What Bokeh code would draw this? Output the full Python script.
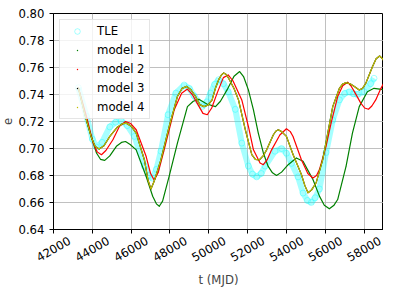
import math
from bokeh.plotting import figure
from bokeh.models import (Range1d, Legend, LegendItem, FixedTicker, NumeralTickFormatter,
                          LinearAxis)
from bokeh.embed import file_html
from bokeh.resources import INLINE

# ---- data ----
tle_t = [43280, 43700, 44000, 44215, 44500, 44900, 45200, 45490, 45800, 46170, 46680,
         46900, 47100, 47300, 47535, 47900, 48300, 48730, 49000, 49240, 49660, 49900,
         50090, 50300, 50510, 50750, 51000, 51365, 51700, 52040, 52250, 52470, 52700,
         52900, 53410, 53750, 54000, 54260, 54600, 54855, 55080, 55280, 55480, 55700,
         56040, 56385, 56730, 57000, 57240, 57450, 57660, 58000, 58340, 58510]
tle_e = [0.745, 0.724, 0.707, 0.701, 0.7045, 0.716, 0.7195, 0.7205, 0.717, 0.709, 0.687,
         0.680, 0.678, 0.6845, 0.698, 0.725, 0.741, 0.747, 0.7445, 0.739, 0.731, 0.7345,
         0.741, 0.7475, 0.751, 0.748, 0.742, 0.729, 0.704, 0.687, 0.681, 0.679, 0.6815,
         0.687, 0.698, 0.700, 0.6965, 0.689, 0.679, 0.667, 0.6615, 0.660, 0.6635, 0.670,
         0.697, 0.721, 0.736, 0.7408, 0.742, 0.7405, 0.740, 0.742, 0.748, 0.752]

m1_t = [43280, 43790, 44215, 44420, 44640, 44900, 45240, 45500, 45710, 45950, 46260,
        46770, 47110, 47300, 47450, 47620, 47960, 48384, 48900, 49200, 49490, 49900,
        50345, 50600, 50940, 51300, 51590, 51800, 52040, 52300, 52550, 52810, 53060,
        53280, 53490, 53750, 54090, 54510, 54855, 55100, 55365, 55700, 55950, 56210,
        56450, 56640, 57070, 57400, 57750, 58170, 58510, 58800, 59080]
m1_e = [0.745, 0.7163, 0.6967, 0.692, 0.6912, 0.6945, 0.7016, 0.7045, 0.7052, 0.703, 0.699,
        0.6794, 0.6646, 0.659, 0.6572, 0.661, 0.6795, 0.704, 0.731, 0.735, 0.7365, 0.733,
        0.731, 0.735, 0.7434, 0.7535, 0.757, 0.753, 0.7434, 0.7286, 0.7114, 0.6967, 0.6867,
        0.682, 0.680, 0.6825, 0.688, 0.693, 0.6905, 0.684, 0.677, 0.6647, 0.658, 0.6553,
        0.658, 0.6622, 0.6868, 0.7114, 0.731, 0.7421, 0.7446, 0.744, 0.7434]

m2_t = [43280, 43700, 44040, 44250, 44470, 44700, 45060, 45400, 45710, 45980, 46260,
        46770, 47000, 47190, 47400, 47700, 48215, 48600, 48900, 49150, 49400, 49700,
        49920, 50150, 50430, 50750, 51000, 51250, 51700, 52040, 52300, 52640, 52810,
        53000, 53235, 53660, 54000, 54200, 54340, 54770, 55100, 55365, 55550, 55700,
        56040, 56300, 56640, 56900, 57150, 57320, 57500, 57830, 58030, 58225, 58400,
        58600, 58850, 59080]
m2_e = [0.745, 0.7237, 0.704, 0.6975, 0.6954, 0.6985, 0.7065, 0.7165, 0.720, 0.7185, 0.7139,
        0.6942, 0.6815, 0.6765, 0.6825, 0.699, 0.7285, 0.741, 0.744, 0.740, 0.7336, 0.726,
        0.725, 0.730, 0.741, 0.7525, 0.7545, 0.750, 0.736, 0.7163, 0.699, 0.6893, 0.688,
        0.6915, 0.699, 0.710, 0.7146, 0.7125, 0.7089, 0.6917, 0.6815, 0.6782, 0.680, 0.6844,
        0.7016, 0.7188, 0.7385, 0.7465, 0.7491, 0.7465, 0.7421, 0.7336, 0.730, 0.7291, 0.7315,
        0.736, 0.744, 0.7503]

m3_t = [43280, 43620, 43960, 44150, 44350, 44600, 44900, 45300, 45550, 45750, 46000,
        46260, 46680, 46870, 47020, 47180, 47535, 47960, 48384, 48620, 48860, 49080,
        49320, 49540, 49750, 49950, 50170, 50350, 50510, 50650, 50770, 50900, 51020,
        51300, 51530, 51880, 52215, 52400, 52600, 52800, 52980, 53320, 53450, 53580,
        53750, 54000, 54340, 54770, 54950, 55110, 55280, 55530, 55870, 56130, 56385,
        56730, 56900, 57070, 57300, 57500, 57750, 57920, 58090, 58430, 58620, 58800,
        58950, 59080]
m3_e = [0.745, 0.725, 0.7077, 0.7015, 0.6996, 0.702, 0.709, 0.716, 0.7183, 0.7188, 0.7165,
        0.7114, 0.6917, 0.6765, 0.6700, 0.6755, 0.6917, 0.7163, 0.7385, 0.7445, 0.746, 0.7435,
        0.7385, 0.7325, 0.731, 0.732, 0.736, 0.745, 0.751, 0.7545, 0.756, 0.7548, 0.752,
        0.7445, 0.736, 0.714, 0.6954, 0.692, 0.6915, 0.6945, 0.699, 0.710, 0.7128, 0.7139,
        0.7125, 0.709, 0.6955, 0.6807, 0.6725, 0.6672, 0.669, 0.6746, 0.6917, 0.7114, 0.731,
        0.7446, 0.7478, 0.7488, 0.7478, 0.7459, 0.7434, 0.7445, 0.7483, 0.7606, 0.7665, 0.7685,
        0.7665, 0.763]

m4_t = [43280, 43620, 43960, 44150, 44350, 44600, 44900, 45300, 45550, 45750, 46000,
        46260, 46680, 46870, 47020, 47180, 47535, 47960, 48384, 48620, 48860, 49080,
        49320, 49540, 49750, 49950, 50170, 50350, 50510, 50650, 50770, 50900, 51020,
        51300, 51530, 51880, 52215, 52400, 52600, 52800, 52980, 53320, 53450, 53580,
        53750, 54000, 54340, 54770, 54950, 55110, 55280, 55530, 55870, 56130, 56385,
        56730, 56900, 57070, 57300, 57500, 57750, 57920, 58090, 58430, 58620, 58800,
        58950, 59080]
m4_e = [0.745, 0.725, 0.7077, 0.7015, 0.6996, 0.702, 0.709, 0.716, 0.7183, 0.7188, 0.7165,
        0.7114, 0.6917, 0.6765, 0.6700, 0.6755, 0.6917, 0.7163, 0.7385, 0.7445, 0.746, 0.7435,
        0.7385, 0.7325, 0.731, 0.732, 0.736, 0.745, 0.751, 0.7545, 0.756, 0.7548, 0.752,
        0.7445, 0.736, 0.714, 0.6954, 0.692, 0.6915, 0.6945, 0.699, 0.710, 0.7128, 0.7139,
        0.7125, 0.709, 0.6955, 0.6807, 0.6725, 0.6672, 0.669, 0.6746, 0.6917, 0.7114, 0.731,
        0.7446, 0.7478, 0.7488, 0.7478, 0.7459, 0.7434, 0.7445, 0.7483, 0.7606, 0.7665, 0.7685,
        0.7665, 0.763]

x_ticks = [42000, 44000, 46000, 48000, 50000, 52000, 54000, 56000, 58000]
x_labels = ["42000", "44000", "46000", "48000", "50000", "52000", "54000", "56000", "58000"]
y_ticks = [0.64, 0.66, 0.68, 0.70, 0.72, 0.74, 0.76, 0.78, 0.80]

FONT = "DejaVu Sans"
FS = "11.7px"

p = figure(width=383, height=289, output_backend="svg", toolbar_location=None,
           x_range=Range1d(42000, 59000), y_range=Range1d(0.64, 0.80),
           min_border_left=50, min_border_right=0, min_border_top=13, min_border_bottom=59)

p.outline_line_color = "black"
p.outline_line_width = 1
p.background_fill_color = "white"
p.grid.grid_line_color = "#b0b0b0"
p.grid.grid_line_width = 0.8

p.xaxis.ticker = FixedTicker(ticks=x_ticks)
p.yaxis.ticker = FixedTicker(ticks=y_ticks)
p.yaxis.formatter = NumeralTickFormatter(format="0.00")
for ax in (p.xaxis, p.yaxis):
    ax.minor_tick_line_color = None
    ax.major_tick_out = 4
    ax.major_tick_in = 0
    ax.major_label_text_font = FONT
    ax.major_label_text_font_size = FS
    ax.major_label_text_color = "black"
    ax.axis_label_text_font = FONT
    ax.axis_label_text_font_size = FS
    ax.axis_label_text_font_style = "normal"
    ax.axis_line_color = "black"
    ax.major_tick_line_color = "black"
p.yaxis.major_label_standoff = 5
p.yaxis.axis_label = "e"
p.yaxis.axis_label_standoff = 3

# primary x axis: tick marks only; labels are drawn by a second axis whose
# anchors sit to the right so that the rotated texts are centred on the ticks
p.xaxis.major_label_overrides = {t: "" for t in x_ticks}
p.xaxis.major_label_standoff = 0
p.xaxis.major_label_text_font_size = "0px"

shift = 820
lab_ticks = [t + shift for t in x_ticks]
ax2 = LinearAxis(ticker=FixedTicker(ticks=lab_ticks),
                 major_label_overrides={t: s for t, s in zip(lab_ticks, x_labels)},
                 major_tick_line_color=None, minor_tick_line_color=None,
                 axis_line_color=None, major_tick_out=0, major_tick_in=0,
                 major_label_standoff=6, major_label_orientation=math.pi / 6,
                 major_label_text_font=FONT, major_label_text_font_size=FS,
                 major_label_text_color="black",
                 axis_label="t (MJD)", axis_label_text_font=FONT,
                 axis_label_text_font_size=FS, axis_label_text_font_style="normal",
                 axis_label_standoff=4)
p.add_layout(ax2, "below")

# TLE band
p.line(tle_t, tle_e, line_color="#00ffff", line_alpha=0.35, line_width=6)
r_tle = p.scatter(tle_t, tle_e, marker="circle", size=6, fill_color=None,
                  line_color="#00ffff", line_alpha=0.35)

# models
series = [(m1_t, m1_e, "#008000"), (m2_t, m2_e, "#ff0000"),
          (m3_t, m3_e, "#000000"), (m4_t, m4_e, "#bfbf00")]
dots = []
for t, e, c in series:
    p.line(t, e, line_color=c, line_width=1.2, line_join="round")
    dots.append(p.scatter(t, e, marker="dot", size=2, line_color=c, fill_color=c))

legend = Legend(items=[LegendItem(label="TLE", renderers=[r_tle]),
                       LegendItem(label="model 1", renderers=[dots[0]]),
                       LegendItem(label="model 2", renderers=[dots[1]]),
                       LegendItem(label="model 3", renderers=[dots[2]]),
                       LegendItem(label="model 4", renderers=[dots[3]])],
                location="top_left")
legend.margin = 6
legend.padding = 4
legend.spacing = 5
legend.label_height = 14
legend.glyph_height = 14
legend.glyph_width = 26
legend.label_standoff = 7
legend.label_text_font = FONT
legend.label_text_font_size = FS
legend.label_text_color = "black"
legend.border_line_color = "#cccccc"
legend.border_line_width = 1
legend.background_fill_alpha = 0.8
p.add_layout(legend)

open("out.html", "w").write(file_html(p, INLINE))
